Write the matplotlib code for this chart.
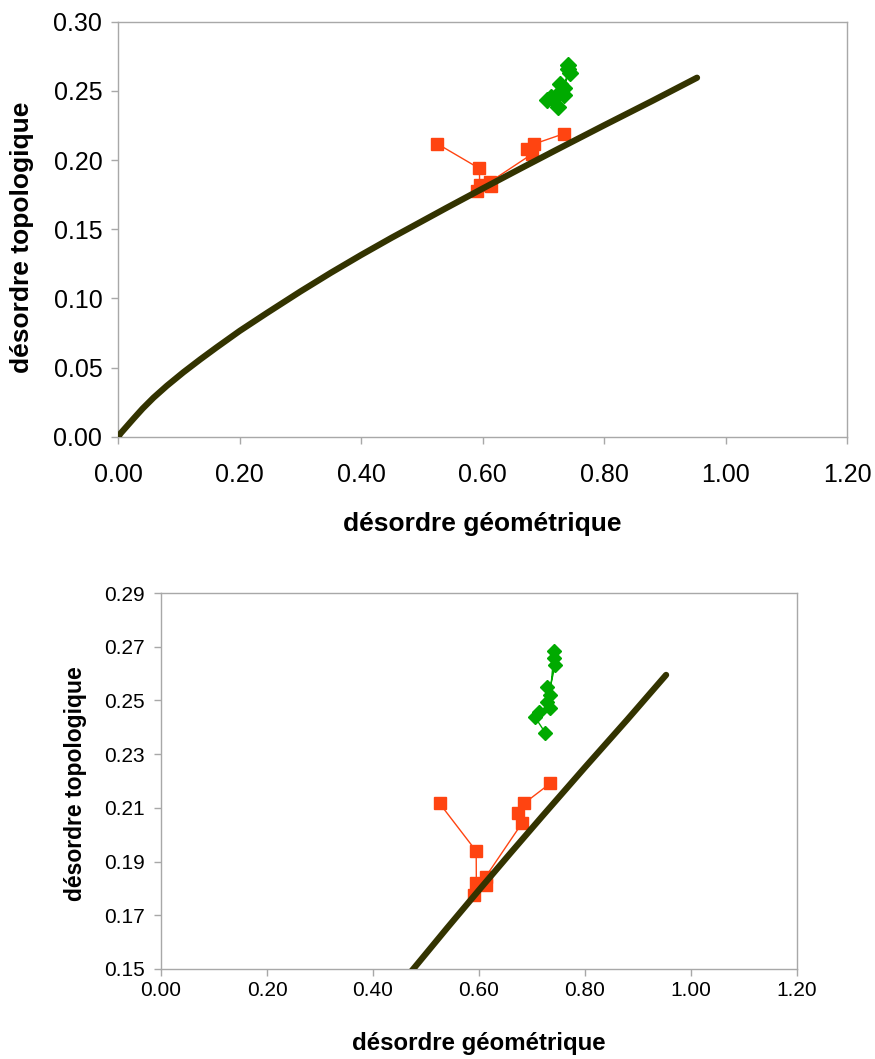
import matplotlib
matplotlib.use('Agg')
import matplotlib.pyplot as plt

plt.rcParams['font.family'] = ['Liberation Sans', 'DejaVu Sans']

# courbe théorique
curve_x = [0.000, 0.004, 0.010, 0.025, 0.040, 0.058, 0.080, 0.107, 0.135, 0.162, 0.200,
           0.245, 0.300, 0.350, 0.400, 0.450, 0.476, 0.540, 0.600, 0.660, 0.719, 0.800,
           0.880, 0.953]
curve_y = [0.0000, 0.0025, 0.0055, 0.0130, 0.0203, 0.0282, 0.0368, 0.0465, 0.0559, 0.0646, 0.0765,
           0.0895, 0.1050, 0.1185, 0.1314, 0.1438, 0.1500, 0.1653, 0.1794, 0.1933, 0.2068, 0.2251,
           0.2429, 0.2595]

# série rouge (carrés)
red_x = [0.5255, 0.5947, 0.5950, 0.5915, 0.6130, 0.6128, 0.6808, 0.6733, 0.6853, 0.7343]
red_y = [0.2117, 0.1939, 0.1821, 0.1776, 0.1813, 0.1844, 0.2042, 0.2080, 0.2117, 0.2191]

# série verte (losanges)
green_x = [0.7249, 0.7060, 0.7123, 0.7343, 0.7280, 0.7438, 0.7406, 0.7406, 0.7343, 0.7280]
green_y = [0.2380, 0.2437, 0.2458, 0.2471, 0.2495, 0.2632, 0.2685, 0.2657, 0.2520, 0.2551]

x_ticks = [0.0, 0.2, 0.4, 0.6, 0.8, 1.0, 1.2]
y_ticks_top = [0.00, 0.05, 0.10, 0.15, 0.20, 0.25, 0.30]
y_ticks_bottom = [0.15, 0.17, 0.19, 0.21, 0.23, 0.25, 0.27, 0.29]

CURVE_COL = '#333300'
RED = '#ff4411'
GREEN = '#00aa00'
GRID = '#a8a8a8'

W, H = 875, 1059
fig = plt.figure(figsize=(W / 100, H / 100), dpi=100)


def make_axes(rect_px, yticks, fs_tick, fs_xlabel, fs_ylabel, ms_sq, ms_d, xpad, xl_y, yl_x, yl_y):
    l, t, r, b = rect_px
    ax = fig.add_axes([l / W, 1 - b / H, (r - l) / W, (b - t) / H])
    ax.plot(curve_x, curve_y, '-', color=CURVE_COL, lw=4.5, solid_capstyle='round',
            solid_joinstyle='round', zorder=3)
    ax.plot(red_x, red_y, '-', color=RED, lw=1, marker='s', ms=ms_sq, mec=RED, mfc=RED, zorder=2)
    ax.plot(green_x, green_y, '-', color=GREEN, lw=1, marker='D', ms=ms_d, mec=GREEN, mfc=GREEN, zorder=2)
    ax.set_xlim(0, 1.2)
    ax.set_ylim(yticks[0], yticks[-1])
    ax.set_xticks(x_ticks)
    ax.set_yticks(yticks)
    ax.set_xticklabels(['{:.2f}'.format(v) for v in x_ticks])
    ax.set_yticklabels(['{:.2f}'.format(v) for v in yticks])
    ax.tick_params(labelsize=fs_tick, length=5, width=1, color=GRID, direction='out')
    ax.tick_params(axis='x', pad=xpad)
    ax.tick_params(axis='y', pad=6.5)
    for sp in ax.spines.values():
        sp.set_color(GRID)
        sp.set_linewidth(1)
    ax.set_xlabel('désordre géométrique', fontsize=fs_xlabel, fontweight='bold', va='center')
    ax.set_ylabel('désordre topologique', fontsize=fs_ylabel, fontweight='bold', va='center')
    ax.xaxis.set_label_coords(0.5, xl_y)
    ax.yaxis.set_label_coords(yl_x, yl_y)
    return ax


make_axes((118.3, 21.7, 847, 436.7), y_ticks_top, 18, 19, 19, 9.2, 8.4, 14, -0.21, -0.132, 0.48)
make_axes((161, 593, 797, 969), y_ticks_bottom, 15, 17.3, 16.5, 8.6, 7.0, 4, -0.197, -0.135, 0.492)

fig.savefig('out.png', dpi=100)
